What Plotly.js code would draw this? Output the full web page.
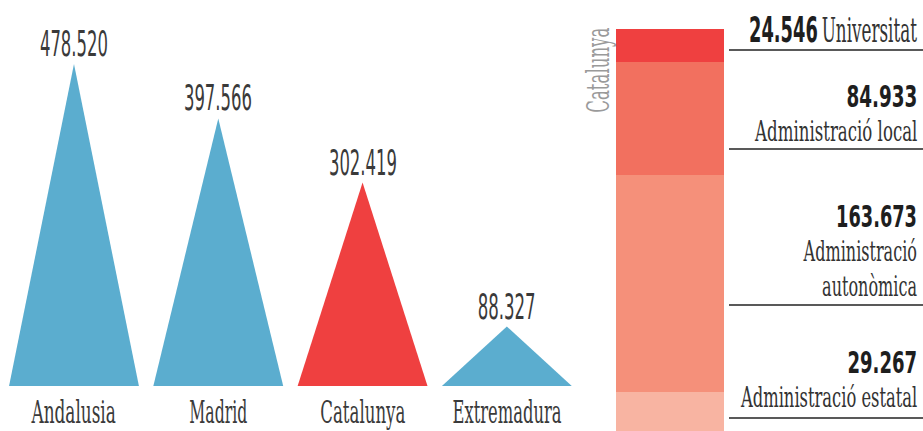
<!DOCTYPE html>
<html><head><meta charset="utf-8">
<script src="https://cdn.plot.ly/plotly-3.0.1.min.js"></script>
<style>html,body{margin:0;padding:0;background:#fff;}#chart{width:923px;height:431px;}</style>
</head><body><div id="chart"></div>
<script>
// Data
const regions = ["Andalusia", "Madrid", "Catalunya", "Extremadura"];
const regionValues = [478520, 397566, 302419, 88327];
const highlightRegion = "Catalunya";

const segmentNames = ["Administració estatal", "Administració autonòmica", "Administració local", "Universitat"];
const segmentValues = [29267, 163673, 84933, 24546];

// Styles
const SERIF = "'DejaVu Serif Condensed', 'DejaVu Serif', serif";
const SANS = "'DejaVu Sans Condensed', 'DejaVu Sans', sans-serif";
const blue = "#5BADCF", red = "#EF4040";
const segColors = ["#F8B4A2", "#F5907A", "#F2705F", "#EF4040"];

function fmt(v){ return String(v).replace(/\B(?=(\d{3})+(?!\d))/g, "."); }
function num(v, size){ return "<span style=\"font-family:DejaVu Sans Condensed,DejaVu Sans;font-weight:bold;font-size:" + size + "px;color:#1e1e1e\">" + fmt(v) + "</span>"; }
function word(t, size){ return "<span style=\"font-size:" + size + "px\">" + t + "</span>"; }

const traces = [];
regions.forEach((r, i) => {
  traces.push({
    type: "scatter", mode: "lines", fill: "toself",
    x: [i - 0.45, i, i + 0.45, i - 0.45],
    y: [0, regionValues[i], 0, 0],
    fillcolor: r === highlightRegion ? red : blue,
    line: {width: 0, color: r === highlightRegion ? red : blue},
    hoverinfo: "skip", xaxis: "x", yaxis: "y"
  });
});
const total = segmentValues.reduce((a, b) => a + b, 0);
segmentNames.forEach((n, k) => {
  traces.push({
    type: "bar", x: [0], y: [segmentValues[k]], width: [1],
    marker: {color: segColors[k], line: {width: 0}},
    xaxis: "x2", yaxis: "y2", hoverinfo: "skip", name: n
  });
});

const annotations = [];
const fit = []; // target text widths (px) used to condense the font
regions.forEach((r, i) => {
  annotations.push({x: i, y: regionValues[i], xref: "x", yref: "y", text: fmt(regionValues[i]),
    showarrow: false, yanchor: "bottom", yshift: -2, font: {family: SANS, size: 36, color: "#3a3a3a"}});
  fit.push([68, 68, 68, 58][i]);
  annotations.push({x: i, y: 1 - 412/431, xref: "x", yref: "paper", text: r,
    showarrow: false, yanchor: "middle", font: {family: SERIF, size: 32, color: "#3a3a3a"}});
  fit.push([85, 58, 85, 109][i]);
});
annotations.push({x: 598/923, y: 1 - 70/431, xref: "paper", yref: "paper", text: highlightRegion,
  textangle: -90, showarrow: false, xanchor: "center", yanchor: "middle",
  font: {family: SERIF, size: 32, color: "#9a9a9a"}});
fit.push(85);

// right-side labels (top to bottom)
const R = 919/923;
const block = (txt, yp, base, w) => { annotations.push({x: R, y: 1 - yp/431, xref: "paper", yref: "paper",
  text: txt, align: "right", showarrow: false, xanchor: "right", yanchor: "middle",
  font: {family: SERIF, size: base, color: "#333"}}); fit.push(w); };
block(num(segmentValues[3], 35) + " " + word(segmentNames[3], 33), 30, 24, 168);
block(num(segmentValues[2], 31) + "<br>" + word(segmentNames[2], 28), 112.5, 26.5, 163);
block(num(segmentValues[1], 31) + "<br>" + word("Administració", 28) + "<br>" + word("autonòmica", 28), 251, 26.5, 114);
block(num(segmentValues[0], 31) + "<br>" + word(segmentNames[0], 28), 379, 26.5, 177);

const shapes = [50, 149, 305, 418].map(yp => ({type: "line", xref: "paper", yref: "paper",
  x0: 729/923, x1: 1, y0: 1 - yp/431, y1: 1 - yp/431, line: {color: "#222", width: 1.5}}));

const pxPerUnit = 144.3;
const x0 = -74 / pxPerUnit;
const yScale = 322 / 478520; // px per value
const layout = {
  width: 923, height: 431, margin: {l: 0, r: 0, t: 0, b: 0},
  paper_bgcolor: "#fff", plot_bgcolor: "rgba(0,0,0,0)", showlegend: false, barmode: "stack",
  xaxis: {domain: [0, 0.65], range: [x0, x0 + 600/pxPerUnit], visible: false, fixedrange: true},
  yaxis: {domain: [0, 1], range: [-45/yScale, 386/yScale], visible: false, fixedrange: true},
  xaxis2: {domain: [616/923, 724/923], range: [-0.5, 0.5], visible: false, anchor: "y2"},
  yaxis2: {domain: [0, 1 - 29/431], range: [0, total], visible: false, anchor: "x2"},
  annotations: annotations, shapes: shapes
};
Plotly.newPlot("chart", traces, layout, {staticPlot: true, displayModeBar: false}).then(gd => {
  const groups = gd.querySelectorAll("g.annotation");
  groups.forEach((g, k) => {
    const t = g.querySelector("text.annotation-text");
    if (!t || fit[k] == null) return;
    const w = t.getBBox().width;
    const s = fit[k] / w;
    const a = annotations[k];
    const origin = (a.xanchor === "right") ? "right center" : "center center";
    t.style.transformBox = "fill-box";
    t.style.transformOrigin = origin;
    t.style.transform = "scaleX(" + s.toFixed(3) + ")";
  });
});
</script></body></html>
